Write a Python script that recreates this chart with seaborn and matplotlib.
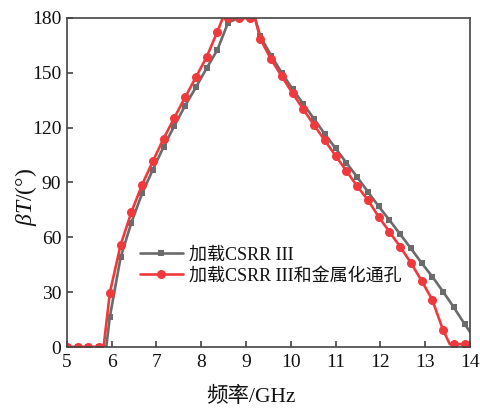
import matplotlib
matplotlib.use("Agg")
import matplotlib.pyplot as plt
from matplotlib.lines import Line2D
import seaborn as sns
import pandas as pd

# Sampled frequencies (GHz) of the marked points
freq = [5.00, 5.24, 5.48, 5.72, 5.96, 6.20, 6.44, 6.68, 6.92, 7.16,
        7.40, 7.64, 7.88, 8.12, 8.36, 8.60, 8.84, 9.08, 9.32, 9.56,
        9.80, 10.04, 10.28, 10.52, 10.76, 11.00, 11.24, 11.48, 11.72, 11.96,
        12.20, 12.44, 12.68, 12.92, 13.16, 13.40, 13.64, 13.88, 14.12]

# Phase shift βT (deg) with CSRR III loaded
phase_csrr = [0, 0, 0, 0, 16.5, 49, 68, 84, 97, 109.5,
              121, 132, 142, 152.5, 162.5, 177.5, 180, 180, 170, 159.4,
              150, 141, 133, 124.7, 116.5, 108.7, 100.8, 93, 85, 77,
              69.5, 61.8, 54, 46, 38.5, 30.3, 21.7, 12.6, 4]

# Phase shift βT (deg) with CSRR III and metallised vias
phase_via = [0, 0, 0, 0, 29.7, 55.8, 73.7, 88.8, 101.6, 114,
             125.4, 136.6, 147.5, 158.6, 172.4, 180, 180, 180, 168.5, 157.4,
             148, 138.8, 130, 121.4, 113, 104.6, 96.4, 88, 80.5, 71.3,
             63.1, 54.9, 46.1, 36.3, 25.7, 9.3, 1.6, 1.6, 1.6]

# Extra curve vertices between marked samples (band edges, plateau end)
edge_freq_csrr = [5.88, 9.20]
edge_phase_csrr = [0, 180]
edge_freq_via = [5.82, 8.48, 9.20, 13.55]
edge_phase_via = [0, 180, 180, 1.6]

label_csrr = "加载CSRR III"
label_via = "加载CSRR III和金属化通孔"

x_ticks = [5, 6, 7, 8, 9, 10, 11, 12, 13, 14]
y_ticks = [0, 30, 60, 90, 120, 150, 180]

gray = "#6b6b6b"
red = "#f0393c"

sns.set_theme(style="white")
plt.rcParams["font.family"] = ["Liberation Serif", "Noto Sans CJK SC"]
plt.rcParams["mathtext.fontset"] = "custom"
plt.rcParams["mathtext.it"] = "Liberation Serif:italic"
plt.rcParams["mathtext.rm"] = "Liberation Serif"

fig = plt.figure(figsize=(4.81, 4.08), dpi=100)
ax = fig.add_axes([0.139, 0.1495, 0.838, 0.8065])

curve_csrr = pd.DataFrame({"f": freq + edge_freq_csrr,
                           "p": phase_csrr + edge_phase_csrr}).sort_values("f")
curve_via = pd.DataFrame({"f": freq + edge_freq_via,
                          "p": phase_via + edge_phase_via}).sort_values("f")
pts_csrr = pd.DataFrame({"f": freq, "p": phase_csrr})
pts_via = pd.DataFrame({"f": freq, "p": phase_via})

lw = 1.9
sns.lineplot(data=curve_csrr, x="f", y="p", ax=ax, color=gray, lw=lw,
             sort=False, estimator=None)
sns.lineplot(data=pts_csrr, x="f", y="p", ax=ax, color=gray, lw=0,
             marker="s", markersize=5, markeredgewidth=0, estimator=None)
sns.lineplot(data=curve_via, x="f", y="p", ax=ax, color=red, lw=lw,
             sort=False, estimator=None)
sns.lineplot(data=pts_via, x="f", y="p", ax=ax, color=red, lw=0,
             marker="o", markersize=6.5, markeredgewidth=0, estimator=None)

ax.set_xlim(5, 14)
ax.set_ylim(0, 180)
ax.set_xticks(x_ticks)
ax.set_yticks(y_ticks)
ax.tick_params(direction="in", length=4.5, width=1.1, color="#333333",
               labelsize=14, labelcolor="#111111",
               top=False, right=False, bottom=True, left=True)
ax.tick_params(axis="x", pad=5)
ax.tick_params(axis="y", pad=4)
for s in ax.spines.values():
    s.set_color("#444444")
    s.set_linewidth(1.2)

ax.set_xlabel("频率/GHz", fontsize=15.5, color="#111111")
ax.xaxis.set_label_coords(0.457, -0.12)
ax.set_ylabel(r"$\mathit{\beta T}$/(°)", fontsize=17, color="#111111")
ax.yaxis.set_label_coords(-0.068, 0.456)

handles = [
    Line2D([], [], color=gray, lw=lw, marker="s", markersize=5, markeredgewidth=0),
    Line2D([], [], color=red, lw=lw, marker="o", markersize=6.5, markeredgewidth=0),
]
ax.legend(handles, [label_csrr, label_via], loc="upper left",
          bbox_to_anchor=(0.181, 0.305), frameon=False, fontsize=13,
          handlelength=2.4, handletextpad=0.3, labelspacing=0.2,
          borderaxespad=0, borderpad=0, labelcolor="#111111")

fig.savefig("out.png", dpi=100)
